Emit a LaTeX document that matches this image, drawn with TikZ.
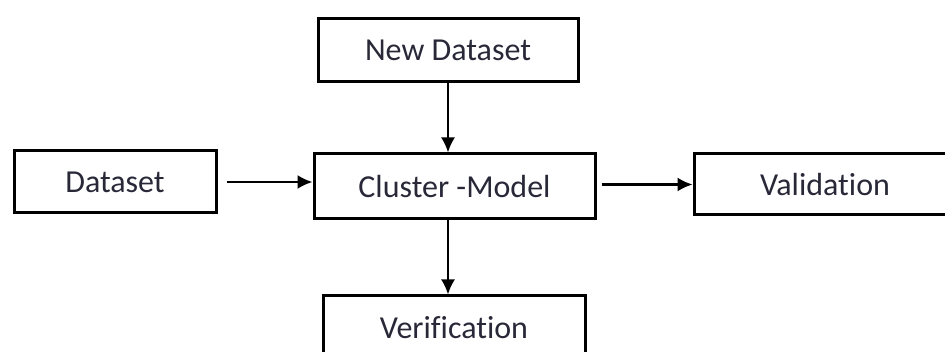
\documentclass[tikz,border=0pt]{standalone}
\usepackage{fontspec}
\setmainfont[Ligatures={NoCommon}]{Carlito}
\usetikzlibrary{positioning,arrows.meta}

\definecolor{labeltext}{RGB}{40,40,56}

\tikzset{
	blockbox/.style={draw, line width=3pt, inner sep=0pt, text=labeltext,
		font=\fontsize{32}{38}\selectfont},
	flowline/.style={line width=2.2pt, -{Latex[length=15pt,width=14pt]}}
}

\begin{document}
\begin{tikzpicture}[x=1pt,y=-1pt]
			%\draw[help lines] (0,0) grid (945,352);
			\clip (0,0) rectangle (945,352);

			\node[blockbox, minimum width=260pt, minimum height=63pt] (newdata) at (448,50.5) {New Dataset};
			\node[blockbox, minimum width=202pt, minimum height=62pt] (data) at (115,182) {Dataset};
			\node[blockbox, minimum width=281pt, minimum height=65pt] (cluster) at (454.5,186.5) {Cluster -Model};
			\node[blockbox, minimum width=262pt, minimum height=61pt] (valid) at (825,184.5) {Validation};
			\node[blockbox, minimum width=262pt, minimum height=63pt] (verif) at (454,327.5) {Verification};

			\draw[flowline] (newdata.south) -- (newdata.south |- cluster.north);
			\draw[flowline, shorten <=9pt] (data.east) -- (data.east -| cluster.west);
			\draw[flowline, shorten <=5pt] (cluster.east |- valid.west) -- (valid.west);
			\draw[flowline] (newdata.south |- cluster.south) -- (newdata.south |- verif.north);
		\end{tikzpicture}
\end{document}
